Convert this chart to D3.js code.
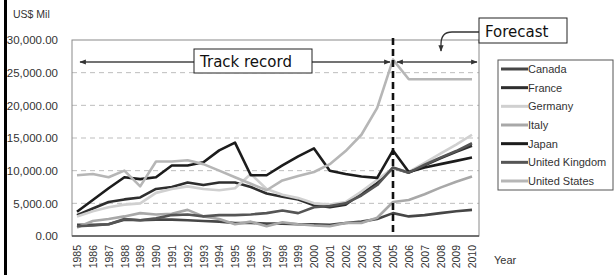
<!DOCTYPE html>
<html>
<head>
<meta charset="utf-8">
<script src="https://cdn.jsdelivr.net/npm/d3@7"></script>
<style>
  body { margin: 0; background: #fff; }
  svg { display: block; font-family: "Liberation Sans", Arial, sans-serif; }
</style>
</head>
<body>
<div id="chart"></div>
<script>
const years = [1985, 1986, 1987, 1988, 1989, 1990, 1991, 1992, 1993, 1994, 1995, 1996, 1997,
  1998, 1999, 2000, 2001, 2002, 2003, 2004, 2005, 2006, 2007, 2008, 2009, 2010];
const countries = ["Canada", "France", "Germany", "Italy", "Japan", "United Kingdom", "United States"];
const yTicks = [0, 5000, 10000, 15000, 20000, 25000, 30000];

// US$ Mil
const canada  = [1700, 1700, 1800, 2500, 2400, 2500, 2500, 2400, 2300, 2200, 2000, 2000, 1900, 1900, 1800, 1800, 1700, 2000, 2200, 2600, 3500, 3000, 3200, 3500, 3800, 4000];
const france  = [3200, 4200, 5200, 5600, 5900, 7200, 7500, 8200, 7800, 8200, 8200, 7500, 6500, 6000, 5600, 4700, 4400, 4800, 6500, 8100, 10400, 9700, 10800, 11900, 12900, 13800];
const germany = [3000, 3800, 4400, 4800, 5000, 6600, 7200, 7600, 7200, 7000, 7300, 9500, 7200, 6300, 5800, 5000, 4800, 5200, 6800, 8600, 10400, 9800, 11200, 12600, 14000, 15500];
const italy   = [1300, 2300, 2600, 3000, 3500, 3300, 3400, 4000, 3000, 2600, 1800, 2200, 1500, 2100, 1800, 1600, 1500, 2000, 2000, 2800, 5200, 5500, 6400, 7400, 8300, 9100];
const japan   = [3700, 5500, 7300, 9000, 8700, 9000, 10800, 10800, 11300, 13100, 14300, 9300, 9300, 10800, 12200, 13400, 10000, 9500, 9100, 8900, 13100, 9800, 10500, 11000, 11500, 12000];
const uk      = [1500, 1600, 1800, 2600, 2400, 2700, 3200, 3300, 3000, 3200, 3200, 3300, 3500, 3900, 3500, 4400, 4600, 5000, 6200, 7800, 10500, 9700, 10900, 12000, 13000, 14200];
const us      = [9300, 9500, 9000, 10000, 7600, 11400, 11400, 11600, 11000, 10000, 9000, 8000, 7000, 8500, 9200, 9800, 11000, 13000, 15500, 19600, 27000, 24000, 24000, 24000, 24000, 24000];

const seriesValues = [canada, france, germany, italy, japan, uk, us];
const colors = ["#464646", "#2e2e2e", "#d0d0d0", "#a8a8a8", "#1c1c1c", "#555555", "#b6b6b6"];

const W = 614, H = 275;
const plot = { left: 72, right: 479, top: 40, bottom: 236 };

const svg = d3.select("#chart").append("svg")
  .attr("width", W)
  .attr("height", H);

// black border on the left side of the picture
svg.append("rect").attr("x", 4).attr("y", 0).attr("width", 3).attr("height", H).attr("fill", "#000");

const x = d3.scalePoint().domain(years).range([77, 472]);
const y = d3.scaleLinear().domain([0, 30000]).range([plot.bottom, plot.top]);

// dashed grid
svg.append("g")
  .selectAll("line")
  .data(yTicks.filter(d => d > 0 && d < 30000))
  .enter().append("line")
  .attr("x1", plot.left).attr("x2", plot.right)
  .attr("y1", d => y(d)).attr("y2", d => y(d))
  .attr("stroke", "#bdbdbd")
  .attr("stroke-dasharray", "5,4");

// plot frame
svg.append("rect")
  .attr("x", plot.left).attr("y", plot.top)
  .attr("width", plot.right - plot.left).attr("height", plot.bottom - plot.top)
  .attr("fill", "none").attr("stroke", "#8a8a8a");
svg.append("line")
  .attr("x1", plot.left).attr("x2", plot.right)
  .attr("y1", plot.bottom).attr("y2", plot.bottom)
  .attr("stroke", "#555").attr("stroke-width", 1.5);

// y axis labels
const yAxis = svg.append("g")
  .attr("transform", "translate(60,0)")
  .call(d3.axisLeft(y).tickValues(yTicks).tickSize(0).tickPadding(2).tickFormat(d3.format(",.2f")));
yAxis.select(".domain").remove();
yAxis.selectAll("text")
  .attr("font-size", 11.5)
  .attr("font-family", "Liberation Sans, Arial, sans-serif")
  .attr("fill", "#333");

// x axis labels (rotated)
const xAxis = svg.append("g")
  .attr("transform", `translate(0,${plot.bottom})`)
  .call(d3.axisBottom(x).tickSize(0).tickPadding(0));
xAxis.select(".domain").remove();
xAxis.selectAll("text")
  .attr("font-size", 10.5)
  .attr("font-family", "Liberation Sans, Arial, sans-serif")
  .attr("fill", "#333")
  .attr("transform", "rotate(-90)")
  .attr("x", -9)
  .attr("y", 0)
  .attr("dy", "0.35em")
  .style("text-anchor", "end");

svg.append("text")
  .attr("x", 13).attr("y", 18)
  .attr("font-size", 10.5)
  .attr("fill", "#333")
  .text("US$ Mil");

svg.append("text")
  .attr("x", 494).attr("y", 264)
  .attr("font-size", 11)
  .attr("fill", "#333")
  .text("Year");

// series lines
const line = d3.line()
  .x((d, i) => x(years[i]))
  .y(d => y(d));

svg.append("g")
  .selectAll("path")
  .data(seriesValues)
  .enter().append("path")
  .attr("d", d => line(d))
  .attr("fill", "none")
  .attr("stroke", (d, i) => colors[i])
  .attr("stroke-width", 2.6)
  .attr("stroke-linejoin", "round");

// 2005 divider
const x2005 = x(2005);
svg.append("line")
  .attr("x1", x2005).attr("x2", x2005)
  .attr("y1", plot.top - 2).attr("y2", plot.bottom)
  .attr("stroke", "#111").attr("stroke-width", 2.6)
  .attr("stroke-dasharray", "7,4");

// arrow markers
const defs = svg.append("defs");
defs.append("marker")
  .attr("id", "arrow")
  .attr("viewBox", "0 0 10 10")
  .attr("refX", 9).attr("refY", 5)
  .attr("markerWidth", 5).attr("markerHeight", 5)
  .attr("orient", "auto-start-reverse")
  .append("path")
  .attr("d", "M0,1 L10,5 L0,9 z")
  .attr("fill", "#333");

const arrowY = 62;
svg.append("line")
  .attr("x1", 80).attr("x2", x2005 - 3)
  .attr("y1", arrowY).attr("y2", arrowY)
  .attr("stroke", "#444").attr("stroke-width", 1.3)
  .attr("marker-start", "url(#arrow)")
  .attr("marker-end", "url(#arrow)");
svg.append("line")
  .attr("x1", x2005 + 4).attr("x2", plot.right - 2)
  .attr("y1", arrowY).attr("y2", arrowY)
  .attr("stroke", "#444").attr("stroke-width", 1.3)
  .attr("marker-start", "url(#arrow)")
  .attr("marker-end", "url(#arrow)");

// Track record label
svg.append("rect")
  .attr("x", 194).attr("y", 49).attr("width", 118).attr("height", 24)
  .attr("fill", "#fff").attr("stroke", "#222").attr("stroke-width", 1);
svg.append("text")
  .attr("x", 200).attr("y", 67)
  .attr("font-family", "DejaVu Sans, Verdana, sans-serif")
  .attr("font-size", 15)
  .attr("fill", "#111")
  .text("Track record");

// Forecast label + curved arrow
svg.append("path")
  .attr("d", "M479,32 L452,32 Q441,32 441,44 L441,51")
  .attr("fill", "none").attr("stroke", "#333").attr("stroke-width", 1.3)
  .attr("marker-end", "url(#arrow)");
svg.append("rect")
  .attr("x", 479).attr("y", 18).attr("width", 88).attr("height", 25)
  .attr("fill", "#fff").attr("stroke", "#222").attr("stroke-width", 1);
svg.append("text")
  .attr("x", 485).attr("y", 37)
  .attr("font-family", "DejaVu Sans, Verdana, sans-serif")
  .attr("font-size", 15)
  .attr("fill", "#111")
  .text("Forecast");

// legend
const legend = svg.append("g");
legend.append("rect")
  .attr("x", 498).attr("y", 60).attr("width", 115).attr("height", 130)
  .attr("fill", "#fff").attr("stroke", "#555");
const ly = d3.scalePoint().domain(countries).range([69, 181]);
const items = legend.selectAll("g.item")
  .data(countries)
  .enter().append("g")
  .attr("class", "item")
  .attr("transform", d => `translate(0,${ly(d)})`);
items.append("line")
  .attr("x1", 501).attr("x2", 528)
  .attr("stroke", (d, i) => colors[i])
  .attr("stroke-width", 3);
items.append("text")
  .attr("x", 528).attr("dy", "0.35em")
  .attr("font-size", 11)
  .attr("fill", "#333")
  .text(d => d);
</script>
</body>
</html>
